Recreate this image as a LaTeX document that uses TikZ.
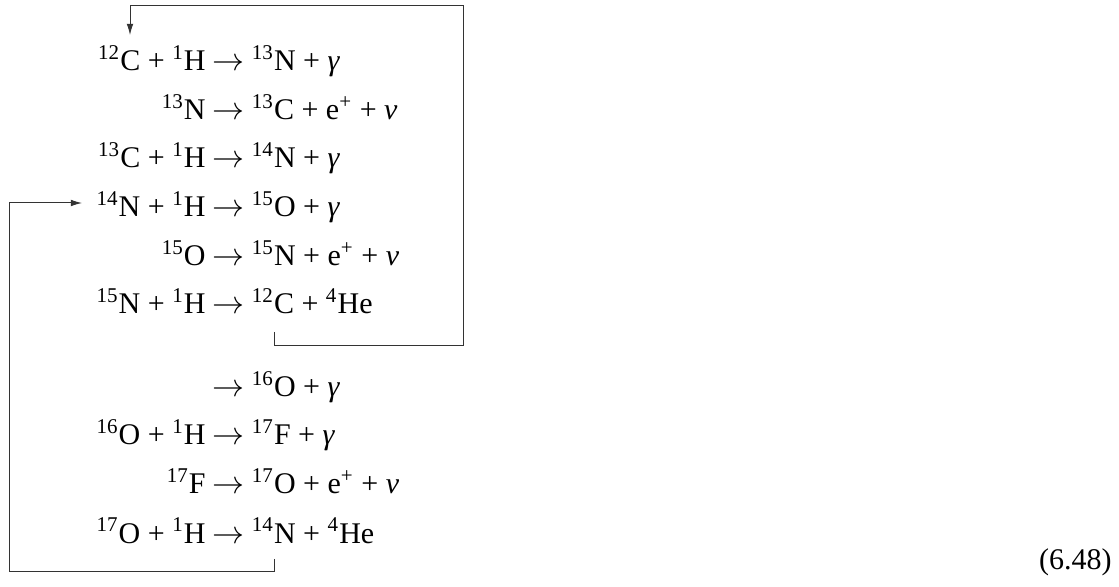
\documentclass[tikz,border=0pt]{standalone}
\usepackage{fontspec}
\setmainfont{Liberation Serif}
\usepackage{tikz}
\usetikzlibrary{arrows.meta}

\begin{document}
\begin{tikzpicture}[
    x=0.45pt, y=-0.45pt,
    every node/.style={inner sep=0pt, font=\fontsize{13.5}{16}\selectfont},
    lhs/.style={anchor=base east},
    rhs/.style={anchor=base west},
    flow/.style={line width=0.45pt, black!80, -{Latex[length=5pt, width=3pt]}}
]
\useasboundingbox (0,0) rectangle (1119,587);

% CNO-I
\node[lhs] (l1) at (206,71) {\textsuperscript{12}C + \textsuperscript{1}H};
\node[rhs] (r1) at (212,71) {$\rightarrow$ \textsuperscript{13}N + \textit{γ}};
\node[lhs] (l2) at (206,120) {\textsuperscript{13}N};
\node[rhs] (r2) at (212,120) {$\rightarrow$ \textsuperscript{13}C + e\textsuperscript{+} + \textit{ν}};
\node[lhs] (l3) at (206,168) {\textsuperscript{13}C + \textsuperscript{1}H};
\node[rhs] (r3) at (212,168) {$\rightarrow$ \textsuperscript{14}N + \textit{γ}};
\node[lhs] (l4) at (206,217) {\textsuperscript{14}N + \textsuperscript{1}H};
\node[rhs] (r4) at (212,217) {$\rightarrow$ \textsuperscript{15}O + \textit{γ}};
\node[lhs] (l5) at (206,266) {\textsuperscript{15}O};
\node[rhs] (r5) at (212,266) {$\rightarrow$ \textsuperscript{15}N + e\textsuperscript{+} + \textit{ν}};
\node[lhs] (l6) at (206,314) {\textsuperscript{15}N + \textsuperscript{1}H};
\node[rhs] (r6) at (212,314) {$\rightarrow$ \textsuperscript{12}C + \textsuperscript{4}He};

% CNO-II
\node[rhs] (r7) at (212,397) {$\rightarrow$ \textsuperscript{16}O + \textit{γ}};
\node[lhs] (l8) at (206,445) {\textsuperscript{16}O + \textsuperscript{1}H};
\node[rhs] (r8) at (212,445) {$\rightarrow$ \textsuperscript{17}F + \textit{γ}};
\node[lhs] (l9) at (206,494) {\textsuperscript{17}F};
\node[rhs] (r9) at (212,494) {$\rightarrow$ \textsuperscript{17}O + e\textsuperscript{+} + \textit{ν}};
\node[lhs] (l10) at (206,543) {\textsuperscript{17}O + \textsuperscript{1}H};
\node[rhs] (r10) at (212,543) {$\rightarrow$ \textsuperscript{14}N + \textsuperscript{4}He};

\node[anchor=base east] (eqno) at (1112,570) {(6.48)};

% Kreislaeufe
\coordinate (outC) at (274,332);
\coordinate (inC) at (130,35);
\coordinate (outN) at (274,559);
\coordinate (inN) at (82,203);

\draw[flow] (outC) |- (463,346) |- (130,6) -- (inC);
\draw[flow] (outN) |- (9,572) |- (inN);

\end{tikzpicture}
\end{document}
